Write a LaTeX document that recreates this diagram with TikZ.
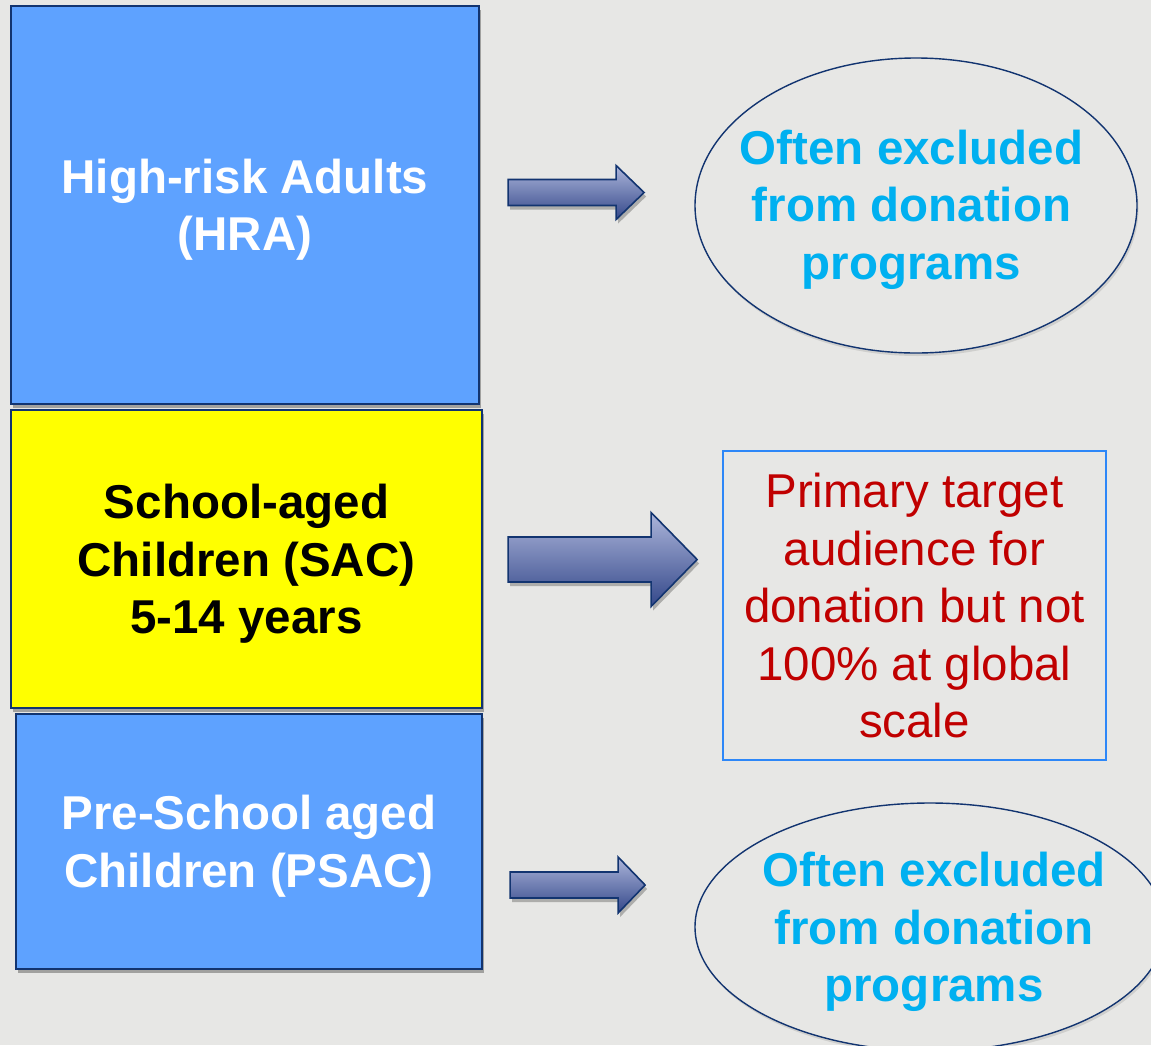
\documentclass[tikz,border=0pt]{standalone}
\usepackage{fontspec}
\setmainfont{Liberation Sans}
\usetikzlibrary{shapes.geometric,shadows,calc}
\definecolor{bgc}{RGB}{231,231,229}
\definecolor{navy}{RGB}{18,52,112}
\definecolor{boxblue}{RGB}{94,162,255}
\definecolor{sacyellow}{RGB}{255,255,0}
\definecolor{cyantxt}{RGB}{0,176,240}
\definecolor{redtxt}{RGB}{192,0,0}
\definecolor{redboxline}{RGB}{45,135,248}
\definecolor{arrtop}{RGB}{172,181,218}
\definecolor{arrbot}{RGB}{52,72,138}
\newcommand\ls{\rule[-11pt]{0pt}{56pt}}
% #1 anchor, (#2,#3) offset of tail centre, #4 half shaft, #5 shaft length, #6 head extend, #7 head length
\newcommand\blockarrow[7]{%
  \draw[arrsty] ($#1+(#2,#3)$) ++(0,-#4) -- ++(#5,0) -- ++(0,-#6)
    -- ++(#7,{#4+#6}) -- ++(-#7,{#4+#6}) -- ++(0,-#6) -- ++(-#5,0) -- cycle;}
\begin{document}
\begin{tikzpicture}[x=1pt,y=-1pt,
  txtb/.style={font=\fontsize{47.5}{57.5}\selectfont\bfseries, align=center, inner sep=0pt},
  txtr/.style={font=\fontsize{47.5}{57.5}\selectfont, align=center, inner sep=0pt},
  bx/.style={draw=navy, line width=2.2pt,
    drop shadow={shadow xshift=2pt, shadow yshift=-4pt, opacity=0.3, fill=black}},
  ell/.style={ellipse, draw=navy, fill=bgc, line width=1.4pt, inner sep=0pt,
    drop shadow={shadow xshift=1.5pt, shadow yshift=-3pt, opacity=0.1, fill=black}},
  arrsty/.style={draw=navy, line width=1.6pt, top color=arrtop, bottom color=arrbot,
    drop shadow={shadow xshift=2pt, shadow yshift=-4pt, opacity=0.25, fill=black}},
]
\fill[bgc] (0,0) rectangle (1151,1045);
\useasboundingbox (0,0) rectangle (1151,1045);

% left boxes
\node[bx, fill=boxblue, minimum width=468, minimum height=398, txtb, text=white]
  (hra) at (245,205) {\ls High-risk Adults\\\ls (HRA)};
\node[bx, fill=sacyellow, minimum width=471, minimum height=298, txtb, text=black]
  (sac) at (246.5,559) {\ls School-aged\\\ls Children (SAC)\\\ls 5-14 years};
\node[bx, fill=boxblue, minimum width=466, minimum height=255, txtb, text=white]
  (psac) at (249,841.5) {\ls Pre-School aged\\\ls Children (PSAC)};

% right shapes
\node[ell, minimum width=442, minimum height=295] (ell1) at (916,205.5) {};
\node[txtb, text=cyantxt] (ell1t) at ($(ell1.center)+(-4.5,-1)$)
  {\ls Often excluded\\\ls from donation\\\ls programs};

\node[draw=redboxline, line width=1.4pt, minimum width=383, minimum height=309,
  txtr, text=redtxt] (tgt) at (914.5,605.5)
  {\ls Primary target\\\ls audience for\\\ls donation but not\\\ls 100\% at global\\\ls scale};

\node[ell, minimum width=470, minimum height=248] (ell2) at (930,927) {};
\node[txtb, text=cyantxt] (ell2t) at ($(ell2.center)+(4,0)$)
  {\ls Often excluded\\\ls from donation\\\ls programs};

% block arrows
\blockarrow{(hra.east)}{28}{-12.5}{13}{108}{14}{28}
\blockarrow{(sac.east)}{25}{0.5}{22.5}{143}{24.5}{46}
\blockarrow{(psac.east)}{27}{43.5}{13}{108}{15}{27}
\end{tikzpicture}
\end{document}
